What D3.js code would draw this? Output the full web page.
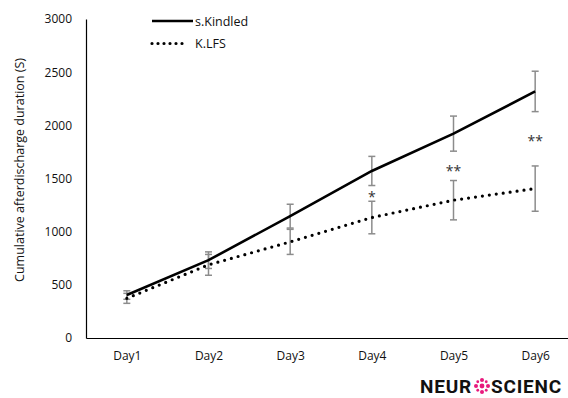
<!DOCTYPE html>
<html><head><meta charset="utf-8">
<script src="https://cdn.jsdelivr.net/npm/d3@7"></script>
<style>body{margin:0;background:#fff}svg{display:block}text{font-family:"Open Sans",sans-serif}</style>
</head><body><svg id="c" width="568" height="398"></svg>
<script>
const days = ["Day1","Day2","Day3","Day4","Day5","Day6"];
const kindled = [404, 732, 1146, 1571, 1922, 2319];
const kindledErr = [40, 78, 112, 137, 165, 190];
const lfs = [373, 688, 904, 1133, 1296, 1405];
const lfsErr = [47, 98, 118, 153, 185, 213];
const stars = ["", "", "", "*", "**", "**"];
const yTicks = [0, 500, 1000, 1500, 2000, 2500, 3000];
const seriesNames = ["s.Kindled", "K.LFS"];

const svg = d3.select("#c");
const x = d3.scalePoint().domain(days).range([86, 576]).padding(0.5);
const y = d3.scaleLinear().domain([0, 3000]).range([338, 19]);

// axes
const gy = svg.append("g").attr("transform","translate(86,0)")
  .call(d3.axisLeft(y).tickValues(yTicks).tickSize(0).tickPadding(14).tickFormat(d3.format("d")));
gy.select(".domain").attr("stroke","#000").attr("stroke-width",1.2);
gy.selectAll("text").attr("font-size",12).attr("fill","#111").style("font-family","Open Sans");

const gx = svg.append("g").attr("transform","translate(0,338)")
  .call(d3.axisBottom(x).tickSize(0).tickPadding(13));
gx.select(".domain").attr("stroke","#000").attr("stroke-width",1.2);
gx.selectAll("text").attr("font-size",12).attr("fill","#111").style("font-family","Open Sans");

// y title
svg.append("text").attr("transform","translate(24,170) rotate(-90)")
  .attr("text-anchor","middle").attr("font-size",12.5).attr("fill","#111")
  .text("Cumulative afterdischarge duration (S)");

// error bars
function errBars(vals, errs) {
  const g = svg.append("g").attr("stroke","#8c8c8c").attr("stroke-width",1.5);
  days.forEach((d,i)=>{
    const cx = x(d), t = y(vals[i]+errs[i]), b = y(vals[i]-errs[i]);
    g.append("line").attr("x1",cx).attr("x2",cx).attr("y1",t).attr("y2",b);
    g.append("line").attr("x1",cx-3.5).attr("x2",cx+3.5).attr("y1",t).attr("y2",t);
    g.append("line").attr("x1",cx-3.5).attr("x2",cx+3.5).attr("y1",b).attr("y2",b);
  });
}
errBars(kindled, kindledErr);
errBars(lfs, lfsErr);

const line = d3.line().x((d,i)=>x(days[i])).y(d=>y(d));
svg.append("path").datum(kindled).attr("d",line).attr("fill","none")
  .attr("stroke","#000").attr("stroke-width",2.6);
svg.append("path").datum(lfs).attr("d",line).attr("fill","none")
  .attr("stroke","#000").attr("stroke-width",3.2).attr("stroke-linecap","round")
  .attr("stroke-dasharray","0,7");

// significance stars
const starY = [0,0,0,1330,1570,1850];
days.forEach((d,i)=>{
  if(!stars[i]) return;
  svg.append("text").attr("x",x(d)).attr("y",y(starY[i])+5).attr("text-anchor","middle")
    .attr("font-size",14).attr("fill","#333").text(stars[i]);
});

// legend
const lg = svg.append("g");
lg.append("line").attr("x1",152).attr("x2",193).attr("y1",21).attr("y2",21)
  .attr("stroke","#000").attr("stroke-width",2.6);
lg.append("text").attr("x",195).attr("y",25.5).attr("font-size",12.5).attr("fill","#111").text(seriesNames[0]);
lg.append("line").attr("x1",152).attr("x2",188).attr("y1",43.5).attr("y2",43.5)
  .attr("stroke","#000").attr("stroke-width",3.2).attr("stroke-linecap","round").attr("stroke-dasharray","0,6");
lg.append("text").attr("x",195).attr("y",48).attr("font-size",12.5).attr("fill","#111").text(seriesNames[1]);

// watermark logo
const logo = svg.append("g");
logo.append("text").attr("x",420).attr("y",393).attr("font-size",19).attr("font-weight","bold")
  .style("font-family","Roboto").attr("letter-spacing",0.8).attr("fill","#111").text("NEUR");
const ic = logo.append("g").attr("transform","translate(482,386)").attr("fill","#e8197d");
[0,45,90,135,180,225,270,315].forEach((a,i)=>{
  const r = 6, rad = a*Math.PI/180;
  ic.append("circle").attr("cx",r*Math.cos(rad)).attr("cy",r*Math.sin(rad)).attr("r", i%2?1.4:2);
});
ic.append("circle").attr("r",2.4);
logo.append("text").attr("x",491).attr("y",393).attr("font-size",19).attr("font-weight","bold")
  .style("font-family","Roboto").attr("letter-spacing",0.8).attr("fill","#111").text("SCIENC");
</script></body></html>
